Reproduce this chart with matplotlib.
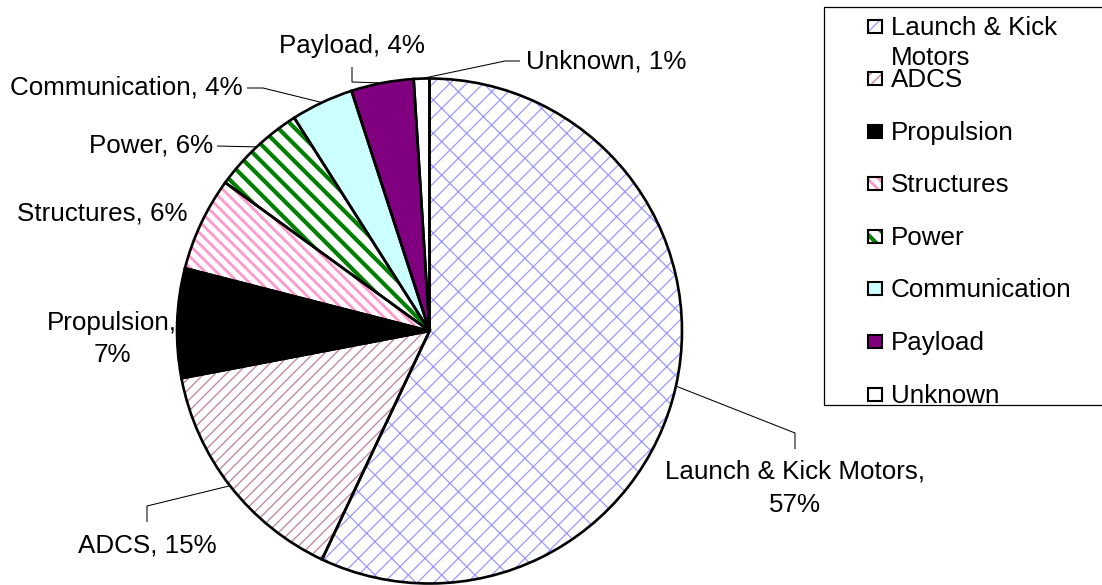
import numpy as np
import matplotlib
matplotlib.use("Agg")
import matplotlib.pyplot as plt
from matplotlib.patches import Rectangle

# ---- data ----
categories = ["Launch & Kick Motors", "ADCS", "Propulsion", "Structures",
              "Power", "Communication", "Payload", "Unknown"]
percent = [57, 15, 7, 6, 6, 4, 4, 1]

# ---- styles ----
face_colors = ["white", "white", "black", "white", "white", "#ccffff", "#800080", "white"]
hatch_colors = ["#9999ff", "#c28aa6", "black", "#ff99cc", "#008000", "#ccffff", "#800080", "white"]
hatches = ["/x", "///", None, "\\\\\\", "\\\\", None, None, None]
hatch_lw = [0.9, 1.0, 1.0, 2.0, 3.0, 1.0, 1.0, 1.0]

plt.rcParams['font.family'] = ['Liberation Sans', 'DejaVu Sans']
FS = 18.7

fig = plt.figure(figsize=(11.02, 5.85), dpi=100)
ax = fig.add_axes([0, 0, 1, 1])

cx, cy, R = 429.5, 331.0, 252.5

def style_patch(p, i):
    p.set_facecolor(face_colors[i])
    p.set_edgecolor(hatch_colors[i])
    p.set_linewidth(0)
    if hatches[i]:
        p.set_hatch(hatches[i])
        if hasattr(p, "set_hatch_linewidth"):
            p.set_hatch_linewidth(hatch_lw[i])

# fills with hatches
wedges, _ = ax.pie(percent, center=(cx, cy), radius=R, startangle=-90,
                   counterclock=True, frame=True)
for i, w in enumerate(wedges):
    style_patch(w, i)
# outlines
outl, _ = ax.pie(percent, center=(cx, cy), radius=R, startangle=-90,
                 counterclock=True, frame=True,
                 wedgeprops=dict(fill=False, edgecolor='black', linewidth=1.9))
ax.set_xlim(0, 1102)
ax.set_ylim(585, 0)
ax.set_aspect('equal')
ax.axis('off')

# ---- labels with leader lines ----
label_layout = [
    ([(0, 795, 478, 'center'), (1, 795, 512, 'center')], [(795, 433), (795, 449)]),
    ([(0, 147, 552, 'center')], [(147, 506), (147, 522)]),
    ([(0, 112, 330, 'center'), (1, 112, 362, 'center')], None),
    ([(0, 102, 220, 'center')], None),
    ([(0, 213, 153, 'right')], [(217, 146)]),
    ([(0, 243, 95, 'right')], [(263, 88), (247, 88)]),
    ([(0, 352, 53, 'center')], [(352, 82), (352, 67)]),
    ([(0, 526, 68, 'left')], [(505, 61), (520, 61)]),
]

cum = np.cumsum([0] + percent)
for i, (cat, pct) in enumerate(zip(categories, percent)):
    if i in (0, 2):
        parts = [f"{cat},", f"{pct}%"]
    else:
        parts = [f"{cat}, {pct}%"]
    lines, path = label_layout[i]
    for (k, x, yb, ha) in lines:
        ax.text(x, yb, parts[k], fontsize=FS, ha=ha, va='baseline', color='black')
    if path:
        mid = -90 + 360 * (cum[i] + pct / 2) / 100
        ex = cx + R * np.cos(np.radians(mid))
        ey = cy + R * np.sin(np.radians(mid))
        xs = [ex] + [p[0] for p in path]
        ys = [ey] + [p[1] for p in path]
        ax.plot(xs, ys, color='black', lw=0.75, solid_capstyle='butt')

# ---- legend (manual, clipped by its frame) ----
box = Rectangle((824, 7), 300, 398, facecolor='white', edgecolor='black', lw=0.9, zorder=5)
ax.add_patch(box)
row_step = 52.6
for i, cat in enumerate(categories):
    if i == 0:
        base_lines = ["Launch & Kick", "Motors"]
        base = 35
    else:
        base_lines = [cat]
        base = 87 + (i - 1) * row_step
    m = Rectangle((868, base - 15), 14, 13, zorder=6)
    style_patch(m, i)
    ax.add_patch(m)
    m2 = Rectangle((868, base - 15), 14, 13, fill=False, edgecolor='black', lw=1.5, zorder=7)
    ax.add_patch(m2)
    for j, t in enumerate(base_lines):
        tx = ax.text(891, base + j * 30, t, fontsize=FS, ha='left', va='baseline',
                     color='black', zorder=8)
        tx.set_clip_path(box)

fig.savefig("out.png", dpi=100)
